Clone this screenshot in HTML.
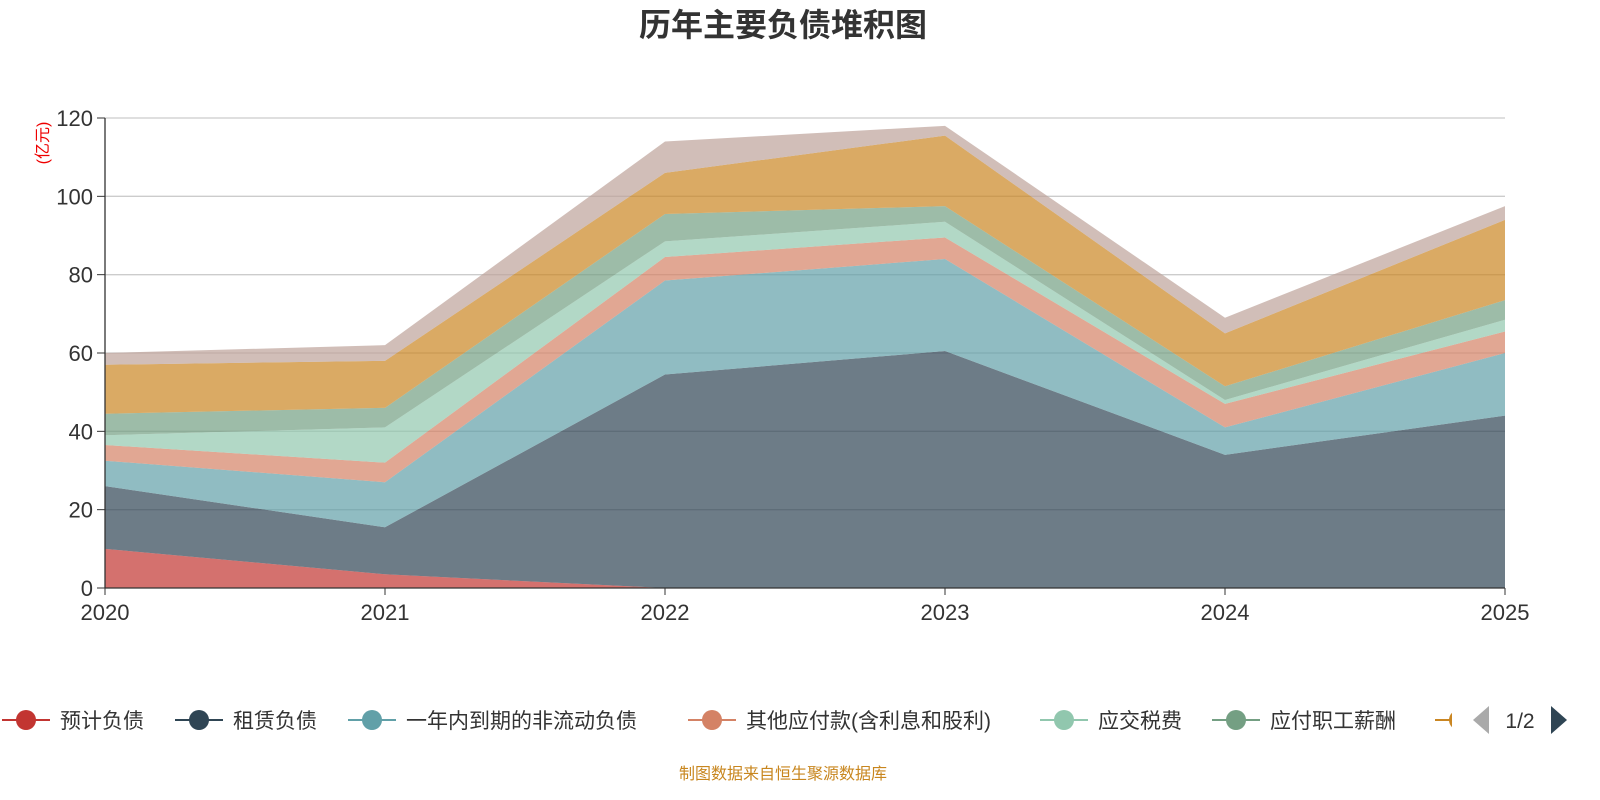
<!DOCTYPE html>
<html><head><meta charset="utf-8">
<style>
html,body{margin:0;padding:0;background:#fff;width:1600px;height:800px;overflow:hidden;}
text{font-family:"Liberation Sans","Noto Sans CJK SC",sans-serif;}
</style></head>
<body>
<svg id="chart" width="1600" height="800" xmlns="http://www.w3.org/2000/svg">
<text x="783" y="36" text-anchor="middle" font-size="32" font-weight="bold" fill="#333">历年主要负债堆积图</text>
<text transform="translate(48,143) rotate(-90)" text-anchor="middle" font-size="16" fill="#e00">(亿元)</text>
<g id="grid"></g><g id="areas"></g><g id="axes"></g><g id="legend"></g>
<text x="783" y="779" text-anchor="middle" font-size="16" fill="#c8861e">制图数据来自恒生聚源数据库</text>
</svg>
<script>
const years=['2020','2021','2022','2023','2024','2025'];
const seriesNames=['预计负债','租赁负债','一年内到期的非流动负债','其他应付款(含利息和股利)','应交税费','应付职工薪酬','应付账款','其他'];
const s0=[10,3.5,0,0,0,0];
const s1=[16,12,54.5,60.5,34,44];
const s2=[6.5,11.5,24,23.5,7,16];
const s3=[4,5,6,5.5,6,5.5];
const s4=[2.5,9,4,4,1,3];
const s5=[5.5,5,7,4,3.5,5];
const s6=[12.5,12,10.5,18,13.5,20.5];
const s7=[3,4,8,2.5,4,3.5];
const yTicks=[0,20,40,60,80,100,120];
const series=[s0,s1,s2,s3,s4,s5,s6,s7];
const colors=['#c23531','#2f4554','#61a0a8','#d48265','#91c7ae','#749f83','#ca8622','#bda29a'];
const NS='http://www.w3.org/2000/svg';
const X0=105,X1=1505,Y0=588,Y1=118;
const xs=i=>X0+i*(X1-X0)/(years.length-1);
const ys=v=>Y0-v*(Y0-Y1)/120;
function mk(tag,attrs,parent){const e=document.createElementNS(NS,tag);for(const k in attrs)e.setAttribute(k,attrs[k]);parent.appendChild(e);return e;}
const grid=document.getElementById('grid'),axes=document.getElementById('axes'),areas=document.getElementById('areas'),legend=document.getElementById('legend');
yTicks.forEach(t=>{
  if(t>0){const l=mk('line',{x1:X0,x2:X1,y1:ys(t),y2:ys(t),stroke:'#ccc','stroke-width':1.3},grid);
  
  }
  const tk=mk('line',{x1:X0-8,x2:X0,y1:ys(t),y2:ys(t),stroke:'#333'},axes);
  
  
  const tx=mk('text',{x:X0-12,y:ys(t)+8,'text-anchor':'end','font-size':22,fill:'#333'},axes);tx.textContent=t;
  
  
});
let base=years.map(()=>0);
series.forEach((s,k)=>{
  const top=base.map((b,i)=>b+s[i]);
  let d='M'+years.map((_,i)=>xs(i)+','+ys(top[i])).join('L');
  for(let i=years.length-1;i>=0;i--)d+='L'+xs(i)+','+ys(base[i]);
  const p=mk('path',{d:d+'Z',fill:colors[k],'fill-opacity':0.7},areas);
  
  
  base=top;
});
const ya=mk('line',{x1:X0,x2:X0,y1:Y1,y2:Y0,stroke:'#333','stroke-width':1.3},axes);


const xa=mk('line',{x1:X0,x2:X1,y1:Y0,y2:Y0,stroke:'#333','stroke-width':1.3},axes);


years.forEach((y,i)=>{
  const tk=mk('line',{x1:xs(i),x2:xs(i),y1:Y0,y2:Y0+7,stroke:'#333'},axes);
  
  
  const t=mk('text',{x:xs(i),y:620,'text-anchor':'middle','font-size':22,fill:'#333'},axes);t.textContent=y;
  
  
});
const lx=[2,175,348,688,1040,1212,1435];
lx.forEach((x,k)=>{
  const g=mk('g',{},legend);
  
  
  mk('line',{x1:x,x2:x+48,y1:720,y2:720,stroke:colors[k],'stroke-width':2},g);
  mk('circle',{cx:x+24,cy:720,r:10,fill:colors[k]},g);
  if(k<6){const t=mk('text',{x:x+58,y:728,'font-size':21,fill:'#333'},g);t.textContent=seriesNames[k];}
});
mk('rect',{x:1452,y:690,width:148,height:60,fill:'#fff'},legend);
const pl=mk('path',{d:'M1489,706L1489,734L1473,720Z',fill:'#aaa'},legend);


const pt=mk('text',{x:1520,y:728,'text-anchor':'middle','font-size':21,fill:'#333'},legend);pt.textContent='1/2';


const pn=mk('path',{d:'M1551,706L1551,734L1567,720Z',fill:'#2f4554'},legend);


</script>
</body></html>
